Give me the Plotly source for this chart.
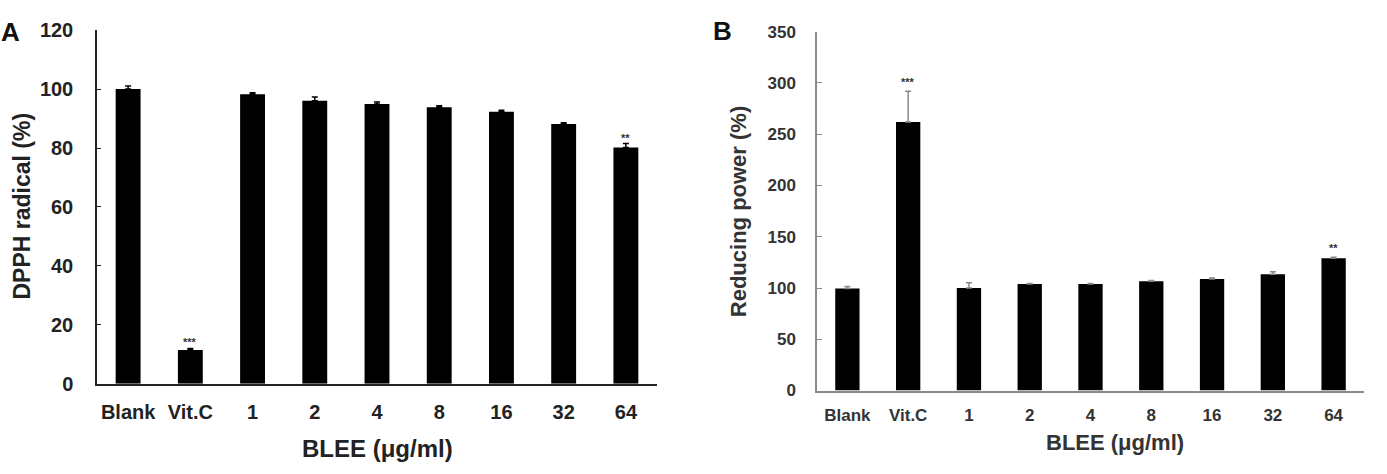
import plotly.graph_objects as go

# ---- data ----
categories = ["Blank", "Vit.C", "1", "2", "4", "8", "16", "32", "64"]
dpph = [100.0, 11.5, 98.2, 96.0, 94.9, 93.8, 92.3, 88.1, 80.2]
dpph_err = [1.0, 0.5, 0.5, 1.3, 0.7, 0.5, 0.5, 0.5, 1.3]
dpph_sig = ["", "***", "", "", "", "", "", "", "**"]
reducing = [99.5, 262.0, 100.0, 104.0, 104.0, 106.7, 108.8, 113.3, 129.0]
reducing_err = [2.0, 30.0, 5.0, 0.5, 0.5, 0.7, 1.0, 2.5, 1.0]
reducing_sig = ["", "***", "", "", "", "", "", "", "**"]
dpph_ticks = [0, 20, 40, 60, 80, 100, 120]
reducing_ticks = [0, 50, 100, 150, 200, 250, 300, 350]

W, H = 1387, 474
FONT = "Arial, Liberation Sans, sans-serif"

fig = go.Figure()
fig.add_trace(go.Bar(
    x=categories, y=dpph, xaxis="x", yaxis="y",
    marker=dict(color="black", line=dict(width=0)),
    error_y=dict(type="data", symmetric=False, array=dpph_err, arrayminus=[0] * len(dpph_err),
                 color="black", thickness=1.5, width=3),
    showlegend=False,
))
fig.add_trace(go.Bar(
    x=categories, y=reducing, xaxis="x2", yaxis="y2",
    marker=dict(color="black", line=dict(width=0)),
    error_y=dict(type="data", symmetric=False, array=reducing_err, arrayminus=[0] * len(reducing_err),
                 color="#8a8a8a", thickness=1.5, width=3),
    showlegend=False,
))

annotations = []
for i, (v, e, s) in enumerate(zip(dpph, dpph_err, dpph_sig)):
    if s:
        annotations.append(dict(x=i, y=v + e, xref="x", yref="y", text=s, showarrow=False,
                                yanchor="bottom", yshift=-2,
                                font=dict(family=FONT, size=11, color="#333", weight="bold")))
for i, (v, e, s) in enumerate(zip(reducing, reducing_err, reducing_sig)):
    if s:
        annotations.append(dict(x=i, y=v + e, xref="x2", yref="y2", text=s, showarrow=False,
                                yanchor="bottom", yshift=1,
                                font=dict(family=FONT, size=11, color="#333", weight="bold")))

def pa(text, px, py, size, angle=0, color="#222"):
    return dict(text=text, x=px / W, y=1 - py / H, xref="paper", yref="paper",
                xanchor="center", yanchor="middle", showarrow=False, textangle=angle,
                font=dict(family=FONT, size=size, color=color, weight="bold"))

annotations += [
    pa("A", 10, 22, 26, color="#111"),
    pa("B", 722, 21, 26, color="#111"),
    pa("DPPH radical (%)", 22, 205, 23, angle=-90),
    pa("BLEE (μg/ml)", 377, 459, 24),
    pa("Reducing power (%)", 738, 211, 22, angle=-90, color="#333"),
    pa("BLEE (μg/ml)", 1115, 452, 22, color="#333"),
]

fig.update_layout(
    width=W, height=H,
    margin=dict(l=0, r=0, t=0, b=0),
    paper_bgcolor="white", plot_bgcolor="white",
    bargap=0.6,
    annotations=annotations,
    xaxis=dict(domain=[97 / W, 657 / W], anchor="y", type="category", range=[-0.5, 8.5],
               showline=True, linecolor="#222", linewidth=1.5, ticks="", showgrid=False,
               ticklabelstandoff=9,
               tickfont=dict(family=FONT, size=20, color="#222", weight="bold")),
    yaxis=dict(domain=[83 / H, 454 / H], anchor="x", range=[0, 120], tickvals=dpph_ticks,
               showline=True, linecolor="#222", linewidth=1.5, ticks="inside", ticklen=4,
               tickcolor="#222", showgrid=False, zeroline=False, ticklabelstandoff=18,
               tickfont=dict(family=FONT, size=20, color="#222", weight="bold")),
    xaxis2=dict(domain=[817 / W, 1364 / W], anchor="y2", type="category", range=[-0.5, 8.5],
                showline=True, linecolor="#8a8a8a", linewidth=1.5, ticks="", showgrid=False,
                ticklabelstandoff=8,
                tickfont=dict(family=FONT, size=17, color="#333", weight="bold")),
    yaxis2=dict(domain=[76 / H, 452.3 / H], anchor="x2", range=[0, 350], tickvals=reducing_ticks,
                showline=True, linecolor="#8a8a8a", linewidth=1.5, ticks="inside", ticklen=5,
                tickcolor="#8a8a8a", showgrid=False, zeroline=False, ticklabelstandoff=16,
                tickfont=dict(family=FONT, size=17, color="#333", weight="bold")),
)

fig.write_html("out.html")
